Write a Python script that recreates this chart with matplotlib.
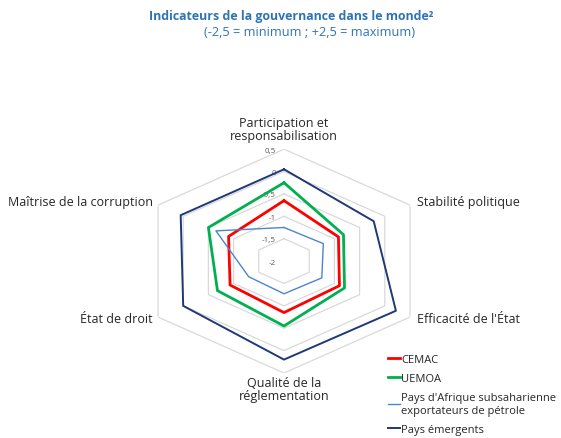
import numpy as np
import matplotlib
matplotlib.use('Agg')
import matplotlib.pyplot as plt

plt.rcParams['font.family'] = ['Open Sans', 'DejaVu Sans']

# données (échelle de -2,5 à +2,5)
categories = ['Participation et\nresponsabilisation', 'Stabilité politique',
              "Efficacité de l'État", 'Qualité de la\nréglementation',
              'État de droit', 'Maîtrise de la corruption']
cemac = [-0.65, -0.92, -0.90, -0.85, -0.93, -0.90]
uemoa = [-0.25, -0.82, -0.80, -0.55, -0.68, -0.50]
petrole = [-1.25, -1.22, -1.25, -1.27, -1.30, -0.65]
emergents = [0.05, -0.22, 0.22, 0.20, 0.00, 0.05]
niveaux = [-2, -1.5, -1, -0.5, 0, 0.5]
niveaux_txt = ['-2', '-1,5', '-1', '-0,5', '0', '0,5']

series = [
    ('CEMAC', cemac, '#FF0000', 2.0),
    ('UEMOA', uemoa, '#00B050', 2.0),
    ("Pays d'Afrique subsaharienne\nexportateurs de pétrole", petrole, '#4A86C8', 1.0),
    ('Pays émergents', emergents, '#1F3877', 1.4),
]

n = len(categories)
angles = np.linspace(0, 2 * np.pi, n, endpoint=False)
angles_c = np.append(angles, angles[0])

fig = plt.figure(figsize=(5.61, 4.39), dpi=100)
ax = fig.add_axes([0.2469, 0.148, 0.5187, 0.510], projection='polar')
ax.set_aspect('auto')
ax.set_theta_zero_location('N')
ax.set_theta_direction(-1)
ax.set_ylim(-2, 0.5)
ax.grid(False)
ax.spines['polar'].set_visible(False)
ax.set_xticks([])
ax.set_yticks([])
ax.patch.set_alpha(0)

# grille hexagonale
for lv in niveaux[1:]:
    ax.plot(angles_c, [lv] * (n + 1), color='#D9D9D9', lw=0.9, zorder=1)

# étiquettes de l'axe
for lv, txt in zip(niveaux, niveaux_txt):
    ax.annotate(txt, (0, lv), xytext=(-8, -1), textcoords='offset pixels',
                ha='right', va='center', fontsize=5.8, color='#595959', zorder=2)

# séries
for nom, vals, col, lw in series:
    v = list(vals) + [vals[0]]
    ax.plot(angles_c, v, color=col, lw=lw, label=nom, zorder=3)

# libellés des catégories
offs = [(0, 7, 'center', 'bottom'), (7, 4, 'left', 'center'),
        (7, -1, 'left', 'center'), (0, -3, 'center', 'top'),
        (-5, -1, 'right', 'center'), (-5, 4, 'right', 'center')]
for a, lab, (dx, dy, ha, va) in zip(angles, categories, offs):
    ax.annotate(lab, (a, 0.5), xytext=(dx, dy), textcoords='offset pixels',
                ha=ha, va=va, fontsize=9.0, color='#262626', linespacing=1.0,
                multialignment='center')

fig.text(0.519, 0.963, 'Indicateurs de la gouvernance dans le monde²',
         ha='center', va='center', fontsize=8.9, fontweight='bold', color='#2E74B5')
fig.text(0.551, 0.925, '(-2,5 = minimum ; +2,5 = maximum)',
         ha='center', va='center', fontsize=9.2, color='#2E74B5')

h, l = ax.get_legend_handles_labels()
leg = fig.legend(h, l, loc='upper left', bbox_to_anchor=(388 / 561, 1 - 355 / 439),
                 frameon=False, fontsize=8.0, handlelength=1.1, handletextpad=0.1,
                 labelspacing=0.7, borderaxespad=0, borderpad=0, labelcolor='#262626')
for t in leg.get_texts():
    t.set_linespacing(1.3)

fig.savefig('out.png', dpi=100)
